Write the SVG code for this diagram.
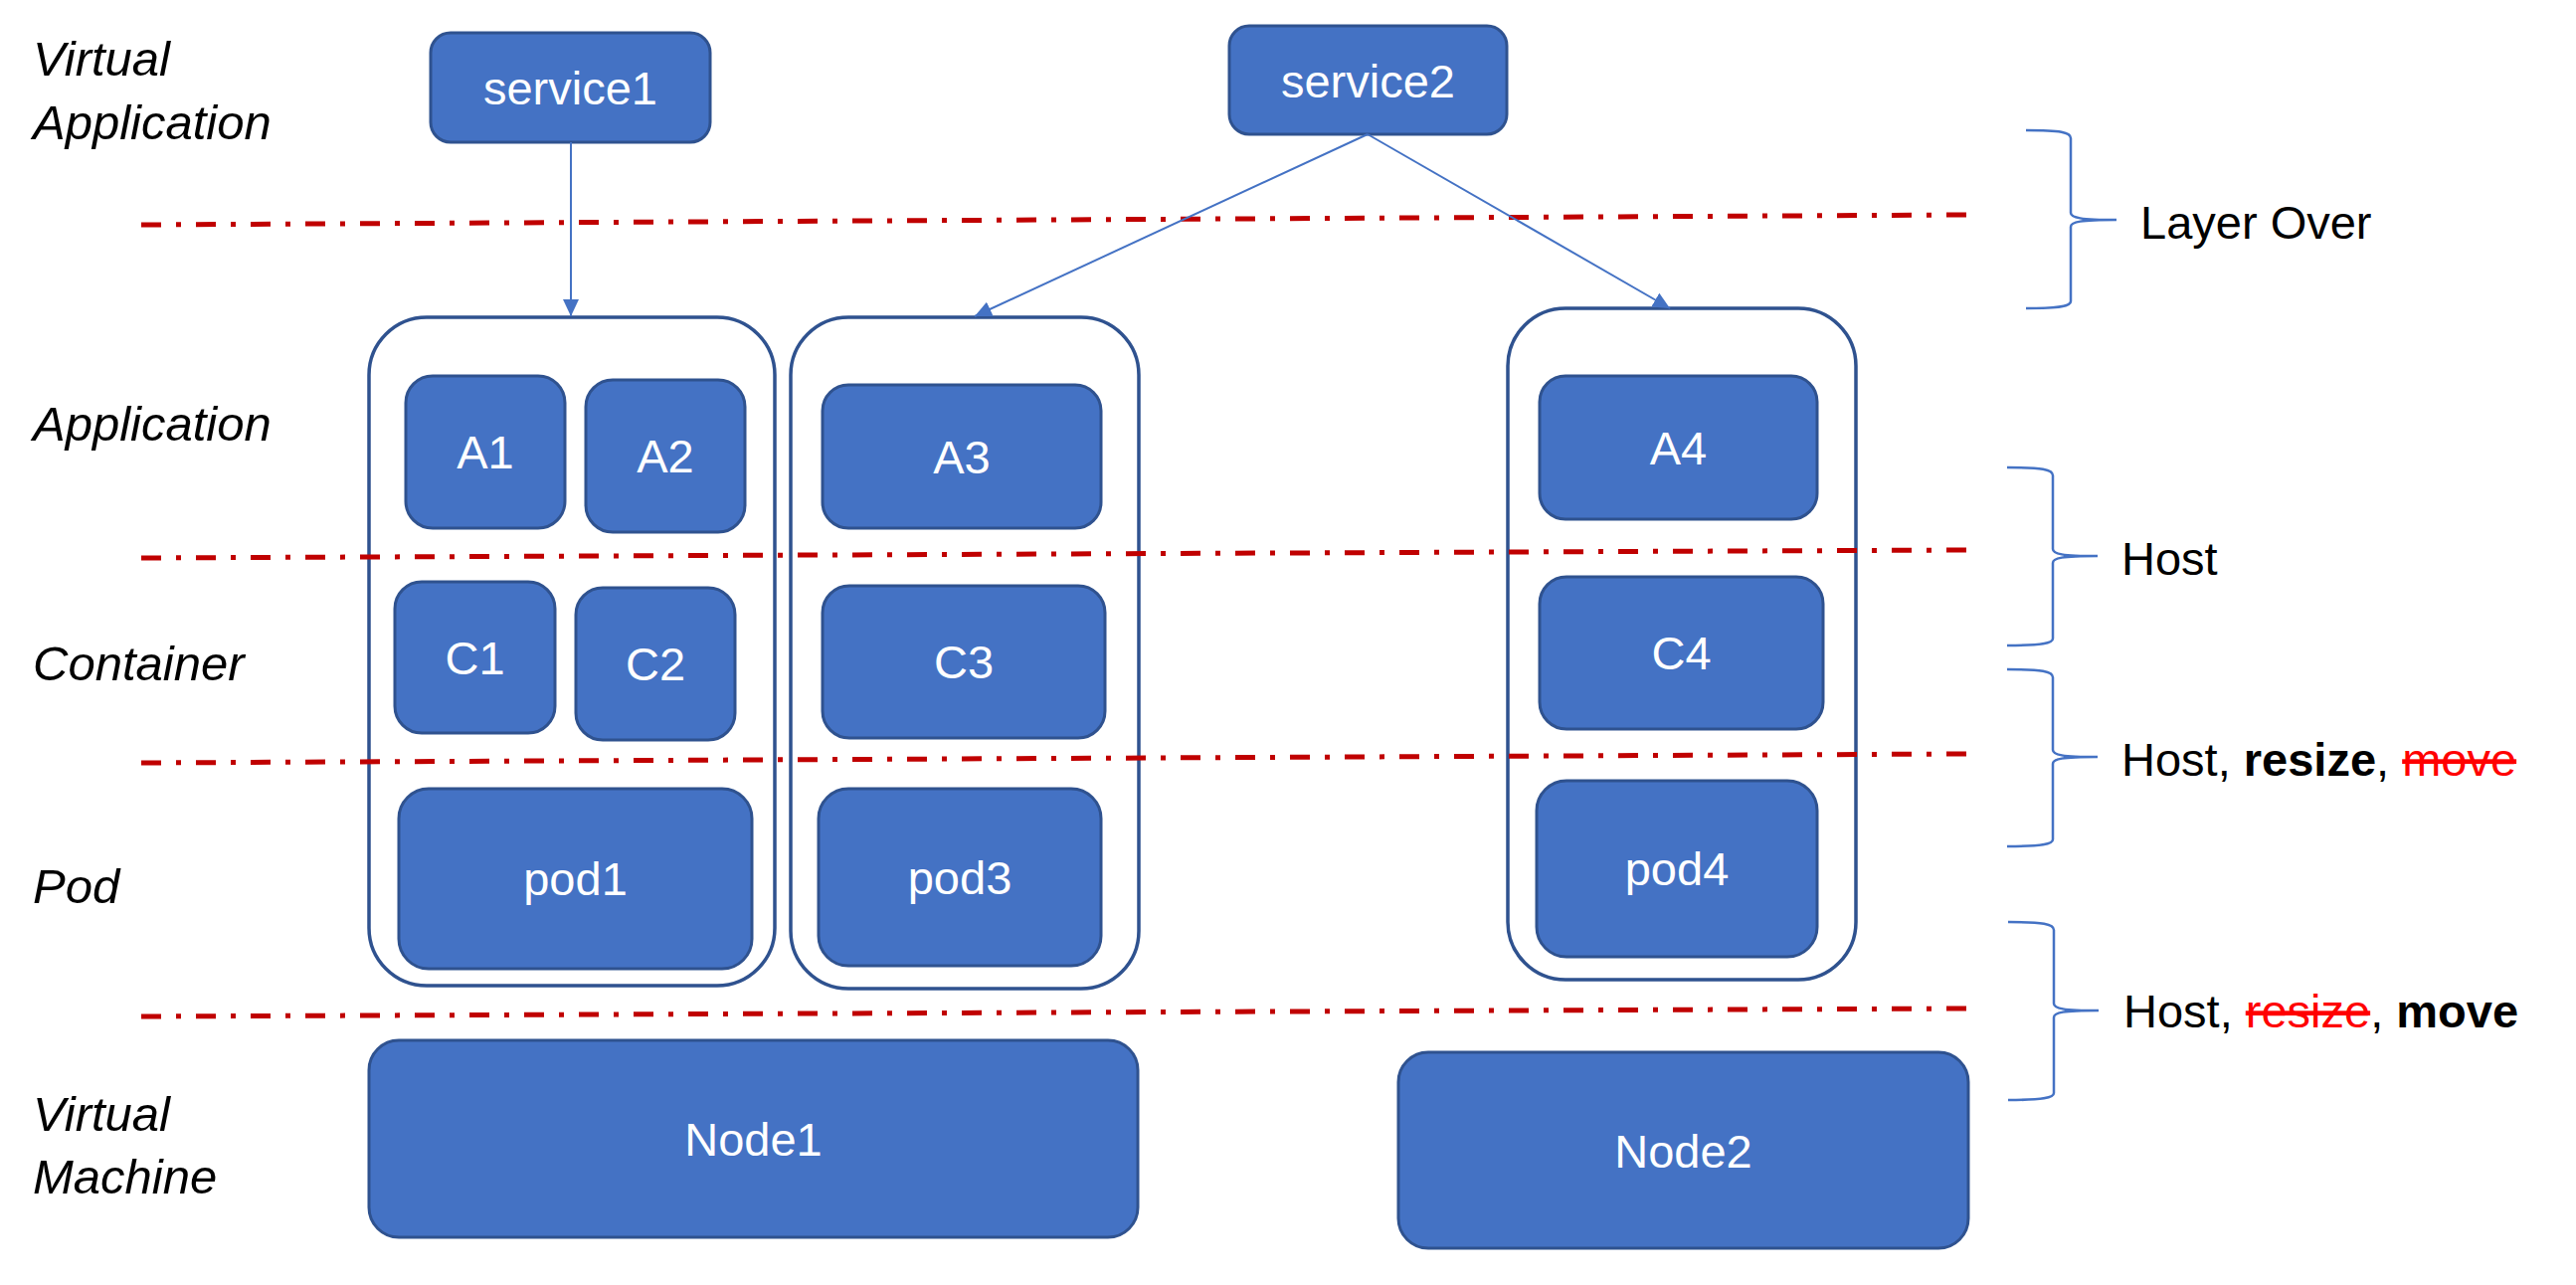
<svg xmlns="http://www.w3.org/2000/svg" width="2590" height="1292" viewBox="0 0 2590 1292">
  <style>
    .box { fill: #4472C4; stroke: #2F528F; stroke-width: 3; }
    .frame { fill: #FFFFFF; stroke: #2F528F; stroke-width: 3.5; }
    .lbl { font-family: "Liberation Sans", Arial, sans-serif; font-size: 47px; fill: #FFFFFF; text-anchor: middle; }
    .layer { font-family: "Liberation Sans", Arial, sans-serif; font-size: 49px; font-style: italic; fill: #000000; }
    .note { font-family: "Liberation Sans", Arial, sans-serif; font-size: 47px; fill: #000000; }
    .bold { font-weight: bold; }
    .struck { fill: #FF0000; text-decoration: line-through; }
    .divider { fill: none; stroke: #C00000; stroke-width: 5; stroke-dasharray: 20 15 5 15; }
    .brace { fill: none; stroke: #4472C4; stroke-width: 2.5; }
    .link { fill: none; stroke: #4472C4; stroke-width: 2; }
  </style>
  <defs>
    <marker id="arrow" markerUnits="userSpaceOnUse" markerWidth="18" markerHeight="16" refX="17" refY="8" orient="auto">
      <path d="M0,0 L17,8 L0,16 z" fill="#4472C4"/>
    </marker>
  </defs>

  <rect width="2590" height="1292" fill="#FFFFFF"/>

  <!-- layer names on the left -->
  <g id="layer-names">
    <text class="layer" x="33" y="76">Virtual</text>
    <text class="layer" x="33" y="140">Application</text>
    <text class="layer" x="33" y="443">Application</text>
    <text class="layer" x="33" y="684">Container</text>
    <text class="layer" x="33" y="908">Pod</text>
    <text class="layer" x="33" y="1137">Virtual</text>
    <text class="layer" x="33" y="1200">Machine</text>
  </g>

  <!-- pod frames -->
  <g id="frame1"><rect class="frame" x="371" y="319" width="408" height="672" rx="58" ry="58"/></g>
  <g id="frame2"><rect class="frame" x="795" y="319" width="350" height="675" rx="58" ry="58"/></g>
  <g id="frame3"><rect class="frame" x="1516" y="310" width="350" height="675" rx="58" ry="58"/></g>

  <!-- layer boundaries, drawn across the frames -->
  <g id="dividers">
    <line class="divider" x1="142" y1="226" x2="1977" y2="216"/>
    <line class="divider" x1="142" y1="561" x2="1977" y2="553"/>
    <line class="divider" x1="142" y1="767" x2="1977" y2="758"/>
    <line class="divider" x1="142" y1="1022" x2="1977" y2="1014"/>
  </g>

  <!-- services -->
  <g id="service1">
    <rect class="box" x="433" y="33" width="281" height="110" rx="20" ry="20"/>
    <text class="lbl" x="573.5" y="105">service1</text>
  </g>
  <g id="service2">
    <rect class="box" x="1236" y="26" width="279" height="109" rx="20" ry="20"/>
    <text class="lbl" x="1375.5" y="98">service2</text>
  </g>

  <!-- applications -->
  <g id="A1">
    <rect class="box" x="408" y="378" width="160" height="153" rx="27" ry="27"/>
    <text class="lbl" x="488" y="471">A1</text>
  </g>
  <g id="A2">
    <rect class="box" x="589" y="382" width="160" height="153" rx="27" ry="27"/>
    <text class="lbl" x="669" y="475">A2</text>
  </g>
  <g id="A3">
    <rect class="box" x="827" y="387" width="280" height="144" rx="26" ry="26"/>
    <text class="lbl" x="967" y="476">A3</text>
  </g>
  <g id="A4">
    <rect class="box" x="1548" y="378" width="279" height="144" rx="26" ry="26"/>
    <text class="lbl" x="1687.5" y="467">A4</text>
  </g>

  <!-- containers -->
  <g id="C1">
    <rect class="box" x="397" y="585" width="161" height="152" rx="27" ry="27"/>
    <text class="lbl" x="477.5" y="678">C1</text>
  </g>
  <g id="C2">
    <rect class="box" x="579" y="591" width="160" height="153" rx="27" ry="27"/>
    <text class="lbl" x="659" y="684">C2</text>
  </g>
  <g id="C3">
    <rect class="box" x="827" y="589" width="284" height="153" rx="27" ry="27"/>
    <text class="lbl" x="969" y="682">C3</text>
  </g>
  <g id="C4">
    <rect class="box" x="1548" y="580" width="285" height="153" rx="27" ry="27"/>
    <text class="lbl" x="1690.5" y="673">C4</text>
  </g>

  <!-- pods -->
  <g id="pod1">
    <rect class="box" x="401" y="793" width="355" height="181" rx="30" ry="30"/>
    <text class="lbl" x="578.5" y="900">pod1</text>
  </g>
  <g id="pod3">
    <rect class="box" x="823" y="793" width="284" height="178" rx="30" ry="30"/>
    <text class="lbl" x="965" y="899">pod3</text>
  </g>
  <g id="pod4">
    <rect class="box" x="1545" y="785" width="282" height="177" rx="30" ry="30"/>
    <text class="lbl" x="1686" y="890">pod4</text>
  </g>

  <!-- virtual machines -->
  <g id="Node1">
    <rect class="box" x="371" y="1046" width="773" height="198" rx="30" ry="30"/>
    <text class="lbl" x="757.5" y="1162">Node1</text>
  </g>
  <g id="Node2">
    <rect class="box" x="1406" y="1058" width="573" height="197" rx="30" ry="30"/>
    <text class="lbl" x="1692.5" y="1174">Node2</text>
  </g>

  <!-- service links -->
  <g id="connectors">
    <line class="link" x1="574" y1="143" x2="574" y2="318" marker-end="url(#arrow)"/>
    <line class="link" x1="1375" y1="135" x2="980" y2="318" marker-end="url(#arrow)"/>
    <line class="link" x1="1375" y1="135" x2="1679" y2="310" marker-end="url(#arrow)"/>
  </g>

  <!-- braces and their notes -->
  <g id="brace-layer-over">
    <path class="brace" d="M2037,131 C2072,131 2082,133 2082,139 L2082,214 C2082,219 2092,221 2128,221 C2092,221 2082,223 2082,228 L2082,303 C2082,308 2072,310 2037,310"/>
    <text class="note" x="2152" y="240">Layer Over</text>
  </g>
  <g id="brace-host">
    <path class="brace" d="M2018,470 C2053,470 2064,472 2064,478 L2064,552 C2064,557 2073,559 2109,559 C2073,559 2064,561 2064,566 L2064,642 C2064,647 2053,649 2018,649"/>
    <text class="note" x="2133" y="578">Host</text>
  </g>
  <g id="brace-host-resize">
    <path class="brace" d="M2018,673 C2053,673 2064,675 2064,681 L2064,754 C2064,759 2073,761 2109,761 C2073,761 2064,763 2064,768 L2064,844 C2064,849 2053,851 2018,851"/>
    <text class="note" x="2133" y="780">Host, <tspan class="bold">resize</tspan>, <tspan class="struck">move</tspan></text>
  </g>
  <g id="brace-host-move">
    <path class="brace" d="M2019,927 C2054,927 2065,929 2065,935 L2065,1009 C2065,1014 2074,1016 2110,1016 C2074,1016 2065,1018 2065,1023 L2065,1099 C2065,1104 2054,1106 2019,1106"/>
    <text class="note" x="2135" y="1033">Host, <tspan class="struck">resize</tspan>, <tspan class="bold">move</tspan></text>
  </g>
</svg>
